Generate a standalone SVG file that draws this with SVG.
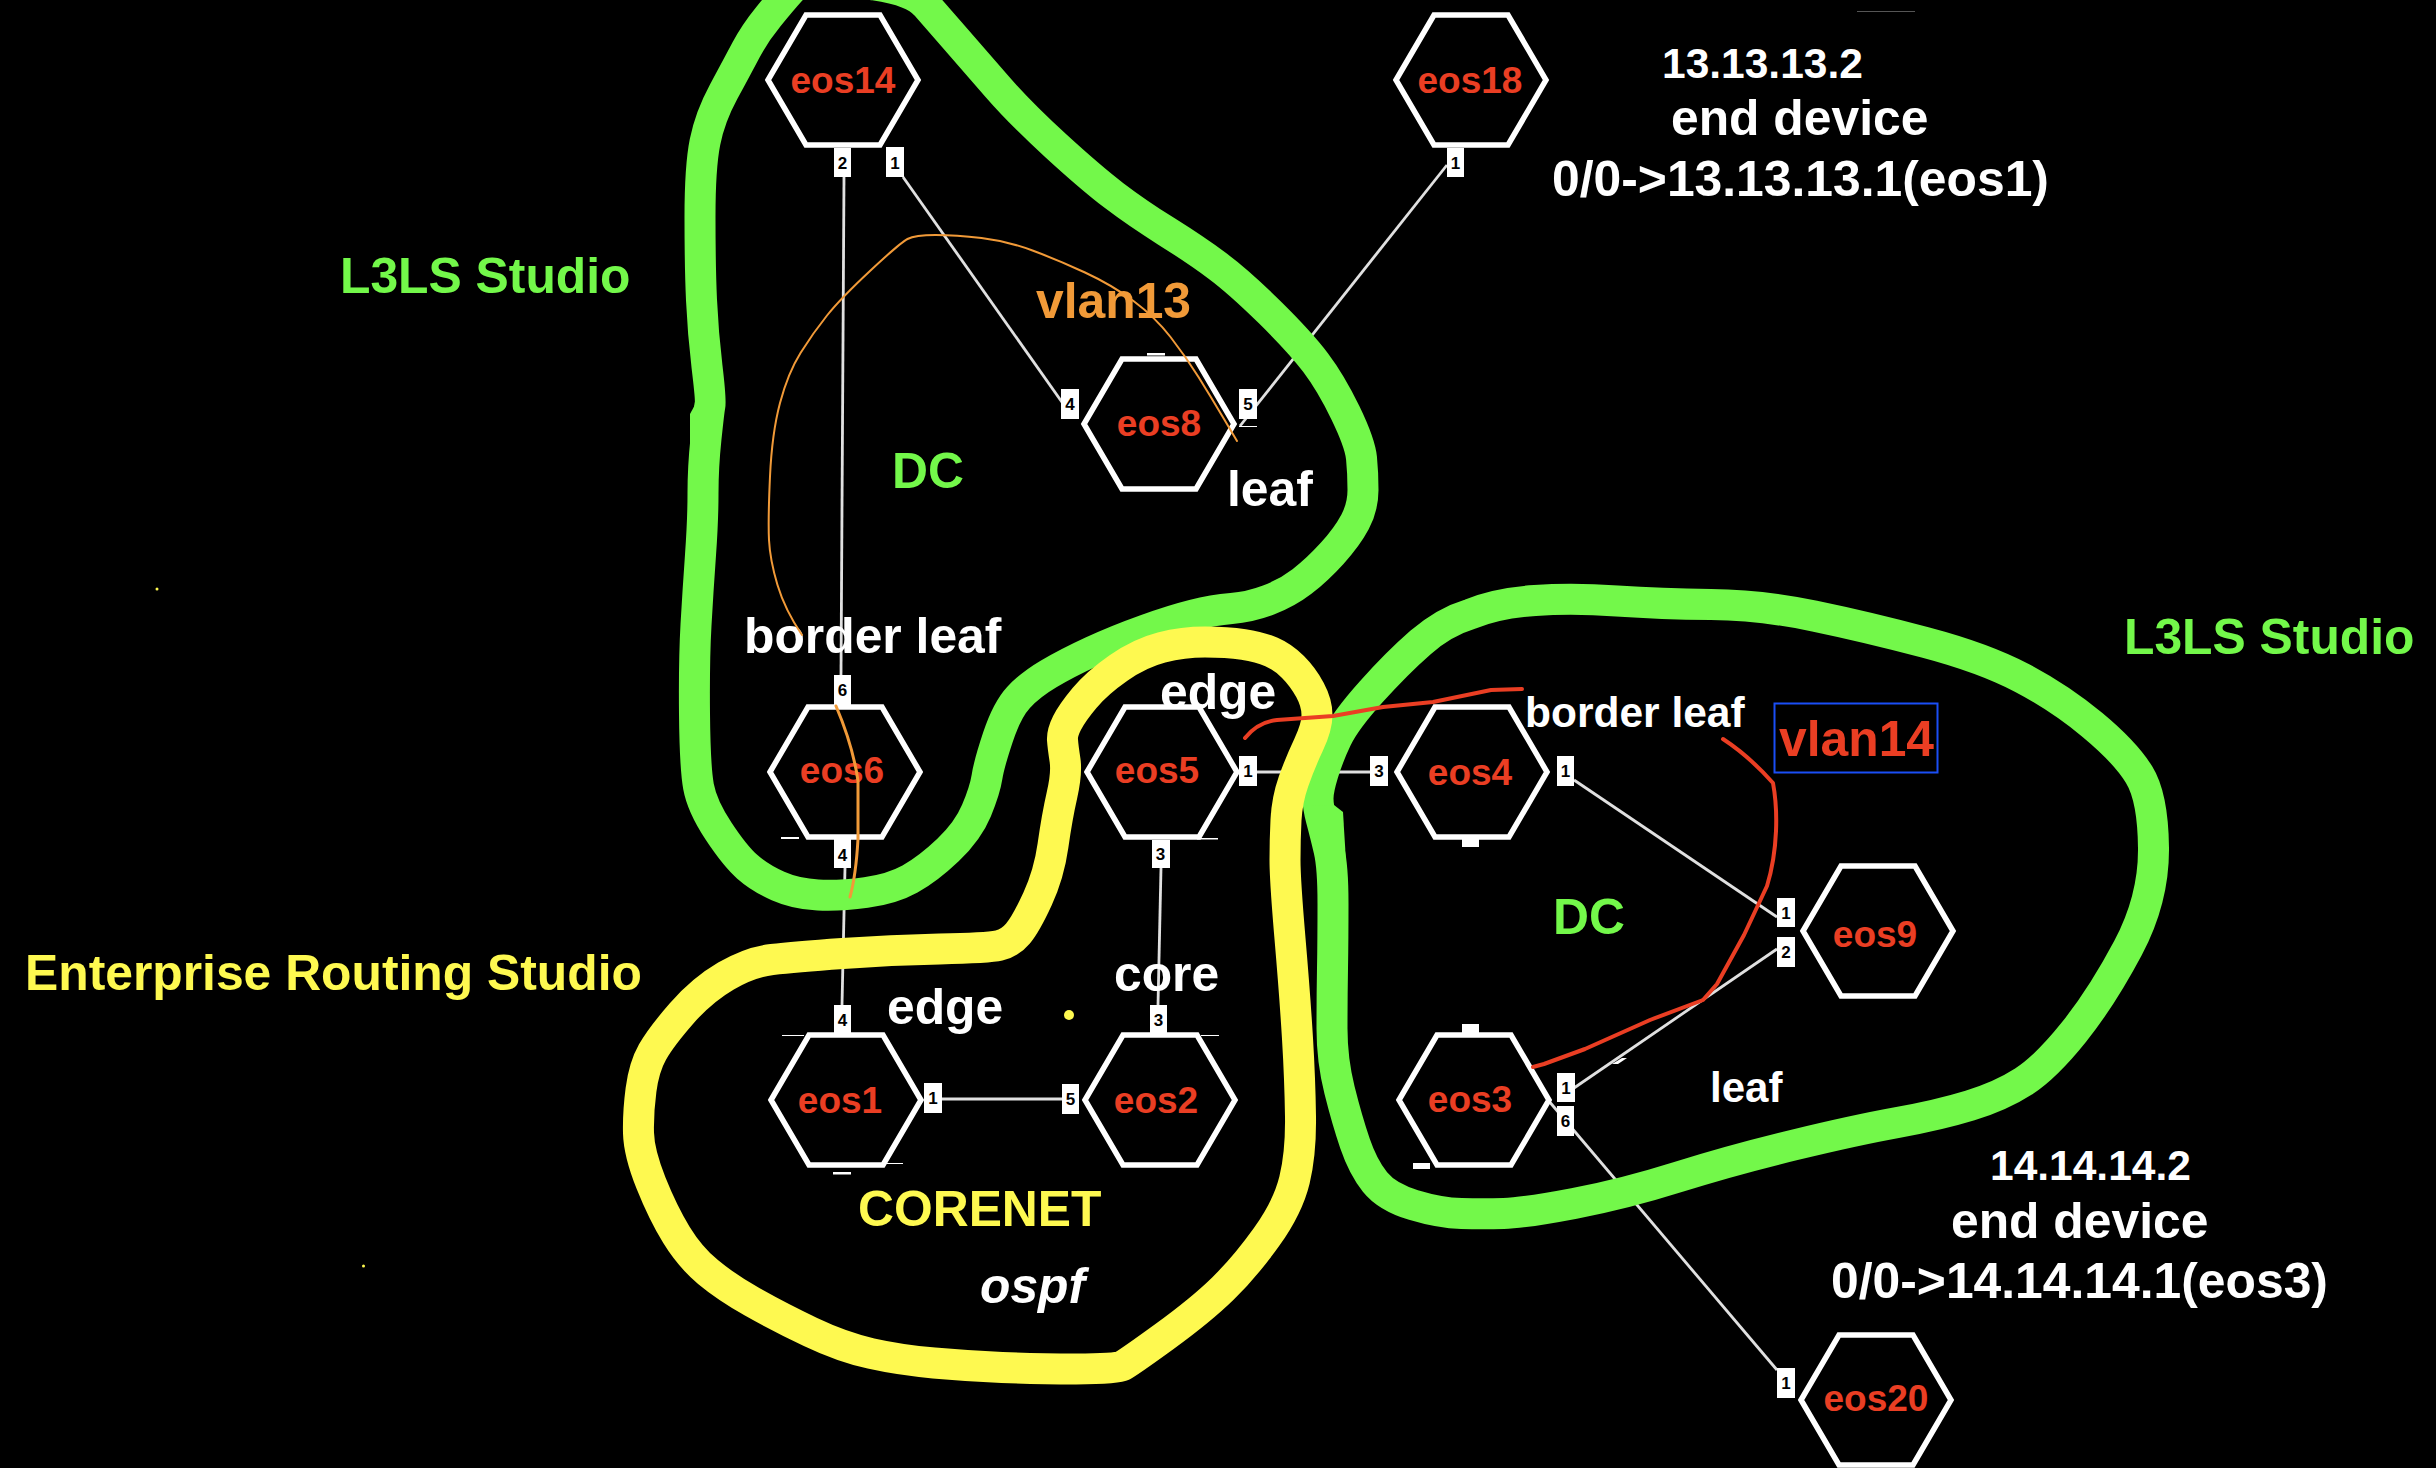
<svg xmlns="http://www.w3.org/2000/svg" xmlns:xlink="http://www.w3.org/1999/xlink" width="2436" height="1468" viewBox="0 0 2436 1468">
<style>
text{font-family:"Liberation Sans",Arial,sans-serif;font-weight:700}
.hex{fill:#000;stroke:#fff;stroke-width:5.5;stroke-linejoin:miter}
.nl{fill:#ea3e23;font-size:37px;text-anchor:middle}
.pr{fill:#fff}
.pt{fill:#000;font-size:17px;text-anchor:middle}
.link{fill:none;stroke:#e0e0e0;stroke-width:2.8}
.tick{fill:#fff}
.blob{fill:none;stroke-width:31;stroke-linejoin:round}
.g{stroke:#73f84a}
.y{stroke:#fef950}
.w{fill:#fff;font-size:49.8px}
.gt{fill:#73f84a;font-size:49.8px}
.yt{fill:#fef950;font-size:49.8px}
.anno{fill:none;stroke-linecap:round;stroke-linejoin:round}
</style>
<defs>
<polygon id="h" class="hex" points="-75,0 -37,-65 37,-65 75,0 37,65 -37,65"/>
</defs>
<rect width="2436" height="1468" fill="#000"/>
<g id="connectors">
<line class="link" x1="844" y1="177" x2="841" y2="675"/>
<line class="link" x1="903" y1="177" x2="1064" y2="405"/>
<line class="link" x1="1447" y1="165" x2="1240" y2="426"/>
<line class="link" x1="845" y1="868" x2="842" y2="1005"/>
<line class="link" x1="1161" y1="868" x2="1158" y2="1005"/>
<line class="link" x1="941" y1="1099" x2="1062" y2="1099"/>
<line class="link" x1="1257" y1="772" x2="1370" y2="772"/>
<line class="link" x1="1574" y1="780" x2="1777" y2="917"/>
<line class="link" x1="1574" y1="1088" x2="1777" y2="949"/>
<line class="link" x1="1548" y1="1100" x2="1777" y2="1370"/>
<polygon class="tick" points="1612,1064 1622,1058 1627,1058 1618,1064"/>
</g>
<g id="eos14"><use xlink:href="#h" x="843" y="80"/><text class="nl" x="843" y="93">eos14</text>
<rect class="pr" x="834" y="148" width="17" height="29"/><text class="pt" x="842.500" y="169">2</text>
<rect class="pr" x="886" y="147" width="18" height="30"/><text class="pt" x="895" y="169">1</text></g>
<g id="eos18"><use xlink:href="#h" x="1471" y="80"/><text class="nl" x="1470" y="93">eos18</text>
<rect class="pr" x="1447" y="148" width="17" height="29"/><text class="pt" x="1455.500" y="169">1</text></g>
<g id="eos8"><use xlink:href="#h" x="1159" y="424"/><text class="nl" x="1159" y="436">eos8</text>
<rect class="pr" x="1061" y="389" width="18" height="30"/><text class="pt" x="1070" y="410">4</text>
<rect class="pr" x="1239" y="389" width="18" height="30"/><text class="pt" x="1248" y="410">5</text>
<rect class="tick" x="1147" y="353" width="18" height="2.500"/><rect class="tick" x="1239" y="426" width="18" height="1"/></g>
<g id="eos6"><use xlink:href="#h" x="845" y="772"/><text class="nl" x="842" y="783">eos6</text>
<rect class="pr" x="834" y="675" width="17" height="30"/><text class="pt" x="842.500" y="696">6</text>
<rect class="pr" x="834" y="835" width="17" height="33"/><text class="pt" x="842.500" y="861">4</text>
<rect class="tick" x="781" y="837" width="18" height="2"/></g>
<g id="eos5"><use xlink:href="#h" x="1162" y="772"/><text class="nl" x="1157" y="783">eos5</text>
<rect class="pr" x="1152" y="840" width="18" height="28"/><text class="pt" x="1160.500" y="860">3</text>
<rect class="pr" x="1239" y="756" width="18" height="30"/><text class="pt" x="1248" y="777">1</text>
<rect class="tick" x="1197" y="838" width="21" height="1.500"/></g>
<g id="eos4"><use xlink:href="#h" x="1472" y="772"/><text class="nl" x="1470" y="785">eos4</text>
<rect class="pr" x="1370" y="756" width="18" height="30"/><text class="pt" x="1379" y="777">3</text>
<rect class="pr" x="1557" y="756" width="17" height="30"/><text class="pt" x="1565.500" y="777">1</text>
<rect class="tick" x="1462" y="835" width="17" height="12"/></g>
<g id="eos9"><use xlink:href="#h" x="1878" y="931"/><text class="nl" x="1875" y="947">eos9</text>
<rect class="pr" x="1777" y="898" width="18" height="29"/><text class="pt" x="1786" y="919">1</text>
<rect class="pr" x="1777" y="937" width="18" height="30"/><text class="pt" x="1786" y="958">2</text></g>
<g id="eos3"><use xlink:href="#h" x="1474" y="1100"/><text class="nl" x="1470" y="1112">eos3</text>
<rect class="pr" x="1557" y="1073" width="18" height="29"/><text class="pt" x="1566" y="1094">1</text>
<rect class="pr" x="1557" y="1106" width="17" height="30"/><text class="pt" x="1565.500" y="1127">6</text>
<rect class="tick" x="1462" y="1024" width="17" height="10"/><rect class="tick" x="1413" y="1163" width="17" height="6"/></g>
<g id="eos20"><use xlink:href="#h" x="1876" y="1400"/><text class="nl" x="1876" y="1411">eos20</text>
<rect class="pr" x="1777" y="1368" width="18" height="30"/><text class="pt" x="1786" y="1389">1</text></g>
<g id="eos1"><use xlink:href="#h" x="846" y="1100"/><text class="nl" x="840" y="1113">eos1</text>
<rect class="pr" x="834" y="1005" width="17" height="30"/><text class="pt" x="842.500" y="1026">4</text>
<rect class="pr" x="924" y="1083" width="18" height="30"/><text class="pt" x="933" y="1104">1</text>
<rect class="tick" x="833" y="1172" width="18" height="2.500"/><rect class="tick" x="881" y="1163" width="22" height="1"/><rect class="tick" x="782" y="1035" width="22" height="1"/></g>
<g id="eos2"><use xlink:href="#h" x="1160" y="1100"/><text class="nl" x="1156" y="1113">eos2</text>
<rect class="pr" x="1062" y="1084" width="17" height="30"/><text class="pt" x="1070.500" y="1105">5</text>
<rect class="pr" x="1150" y="1005" width="17" height="30"/><text class="pt" x="1158.500" y="1026">3</text>
<rect class="tick" x="1201" y="1035" width="18" height="1"/></g>
<g id="outlines">
<path class="blob g" d="M768.500,16.500 Q782,0 791,-10 800,-20 827,-19 854,-18 874.500,-15 895,-12 907.500,-7 920,-2 926.500,5.500 933,13 953.500,36.500 974,60 997,86.500 1020,113 1055.500,145.500 1091,178 1114,195.500 1137,213 1166.500,231.500 1196,250 1217.500,266 1239,282 1269.500,312 1300,342 1315.500,362.500 1331,383 1345.500,413 1360,443 1361.500,458 1363,473 1363,490 1363,507 1355,522 1347,537 1332,553.500 1317,570 1302,581.500 1287,593 1268.500,600 1250,607 1231.500,608.500 1213,610 1193,615 1173,620 1145,630 1117,640 1092,651.500 1067,663 1048.500,674 1030,685 1018.500,697.500 1007,710 998,737 989,764 987,777 985,790 976.500,810.500 968,831 948,850 928,869 910,879 892,889 866,892.500 840,896 818,895 796,894 778,886 760,878 747.500,867 735,856 718.500,831 702,806 698.500,786.500 695,767 694.500,713.500 694,660 696,625 698,590 700.500,555 703,520 703,493.500 703,467 706,438.500 709,410 710,405 711,400 707,366.500 703,333 701.500,300 700,267 700,217 700,167 705,142 710,117 723.500,92 737,67 746,50 755,33 768.500,16.500Z"/>
<polygon fill="#73f84a" points="690,414 696,403 705,403 705,445 690,445"/>
<path class="blob g" d="M1371,692 Q1345,721 1336.500,739 1328,757 1323,773.500 1318,790 1318,798.500 1318,807 1321.500,820 1325,833 1329,850 1333,867 1333,903.500 1333,940 1332.500,968.500 1332,997 1332,1028.500 1332,1060 1339.500,1090 1347,1120 1355,1143.500 1363,1167 1375,1182 1387,1197 1413.500,1205 1440,1213 1461.500,1213.500 1483,1214 1503.500,1213.500 1524,1213 1574,1203.500 1624,1194 1678,1177 1732,1160 1794,1145 1856,1130 1897.500,1122.500 1939,1115 1970,1105.500 2001,1096 2023.500,1081.500 2046,1067 2074,1032 2102,997 2128,948 2154,899 2153.500,848 2153,797 2139,774.500 2125,752 2092.500,725 2060,698 2022,678 1984,658 1925.500,642.500 1867,627 1814,616 1761,605 1711,604.500 1661,604 1617,601 1573,598 1535,600.500 1497,603 1470.500,614 1444,622 1420.500,642.500 1397,663 1371,692Z"/>
<polygon fill="#73f84a" points="1334,805 1343,812 1346,862 1322,862 1309,830 1304,806"/>
<path class="blob y" d="M1062,795 Q1067,773 1065,760 1063,747 1062.500,740 1062,733 1067,723 1072,713 1084.500,698 1097,683 1118.500,668 1140,653 1161.500,647.500 1183,642 1205,642 1227,642 1243.500,644.500 1260,647 1271.500,652 1283,657 1293,667 1303,677 1310,690 1317,703 1317,715 1317,727 1308.500,745 1300,763 1293.500,781.500 1287,800 1286,820 1285,840 1285,860 1285,880 1290,938.500 1295,997 1297.500,1038.500 1300,1080 1300.500,1116.500 1301,1153 1294.500,1180 1288,1207 1266.500,1237 1245,1267 1223,1288.500 1201,1310 1164.500,1336.500 1128,1363 1122,1366 1116,1369 1076,1369 1036,1369 1002,1367.500 968,1366 934,1363 900,1360 871,1353.500 842,1347 810.500,1332 779,1317 752.500,1302 726,1287 708,1272 690,1257 676.500,1235 663,1213 651,1183 639,1153 638.500,1133 638,1113 641,1090 644,1067 652.500,1052 661,1037 681.500,1013.500 702,990 726,976 750,962 772,959.500 794,957 842.500,953.500 891,950 939.500,949 988,948 999,945.500 1010,943 1018,933.500 1026,924 1037.500,899 1049,874 1053,845.500 1057,817 1062,795Z"/>
</g>
<g id="labels">
<text class="gt" x="340" y="293">L3LS Studio</text>
<text class="gt" x="2124" y="654">L3LS Studio</text>
<text class="gt" x="892" y="488">DC</text>
<text class="gt" x="1553" y="934">DC</text>
<text class="yt" x="25" y="990">Enterprise Routing Studio</text>
<text class="yt" x="858" y="1226">CORENET</text>
<text x="1036" y="318" fill="#f19a38" font-size="49.800">vlan13</text>
<text x="1779" y="756" fill="#ea3e23" font-size="49.800">vlan14</text>
<rect x="1774.500" y="703.500" width="163" height="69" fill="none" stroke="#1a4ef5" stroke-width="2"/>
<text class="w" x="1227" y="506">leaf</text>
<text class="w" x="744" y="653">border leaf</text>
<text class="w" x="1160" y="709">edge</text>
<text x="1525" y="727" fill="#fff" font-size="42.500">border leaf</text>
<text x="1710" y="1102" fill="#fff" font-size="42">leaf</text>
<text class="w" x="1114" y="991">core</text>
<text class="w" x="887" y="1024">edge</text>
<text class="w" x="980" y="1303" font-style="italic">ospf</text>
<text x="1662" y="78" fill="#fff" font-size="42.500">13.13.13.2</text>
<text class="w" x="1671" y="135">end device</text>
<text class="w" x="1552" y="196">0/0-&gt;13.13.13.1(eos1)</text>
<text x="1990" y="1180" fill="#fff" font-size="42.500">14.14.14.2</text>
<text class="w" x="1951" y="1238">end device</text>
<text class="w" x="1831" y="1298">0/0-&gt;14.14.14.1(eos3)</text>
</g>
<g id="annotations">
<path class="anno" stroke="#ea3e23" stroke-width="4" d="M1245,738 Q1258,722 1277,720 L1333,716 1383,707 1433,702 1491,690 1522,689"/>
<path class="anno" stroke="#ea3e23" stroke-width="4" d="M1723,739 Q1749,756 1773,783 C1778,810 1778,850 1767,886 L1744,935 1717,984 1703,1000 1650,1020 1585,1049 1544,1064 1533,1067"/>
<path class="anno" stroke="#f19a38" stroke-width="2" d="M1237,441 L1224,419 Q1211,397 1198.500,377 1186,357 1170.500,337 1155,317 1133.500,301 1112,285 1085,272.500 1058,260 1032.500,250.500 1007,241 981.500,238 956,235 935.500,235 915,235 907.500,239 900,243 870.500,270.500 841,298 827,315.500 813,333 800.500,353 788,373 780,403 772,433 770,476.500 768,520 769,540 770,560 777.500,585 785,610 802,635 819,660 L836,706"/>
<path class="anno" stroke="#f19a38" stroke-width="3" d="M836,706 Q853,746 858,781 L858,839 Q856,875 850,897"/>
<circle cx="1069" cy="1015" r="5" fill="#fef950"/>
<circle cx="157" cy="589" r="1.500" fill="#fef950"/>
<circle cx="363.500" cy="1266" r="1.500" fill="#fef950"/>
<rect x="1857" y="11" width="58" height="1" fill="#555"/>
</g>
</svg>
